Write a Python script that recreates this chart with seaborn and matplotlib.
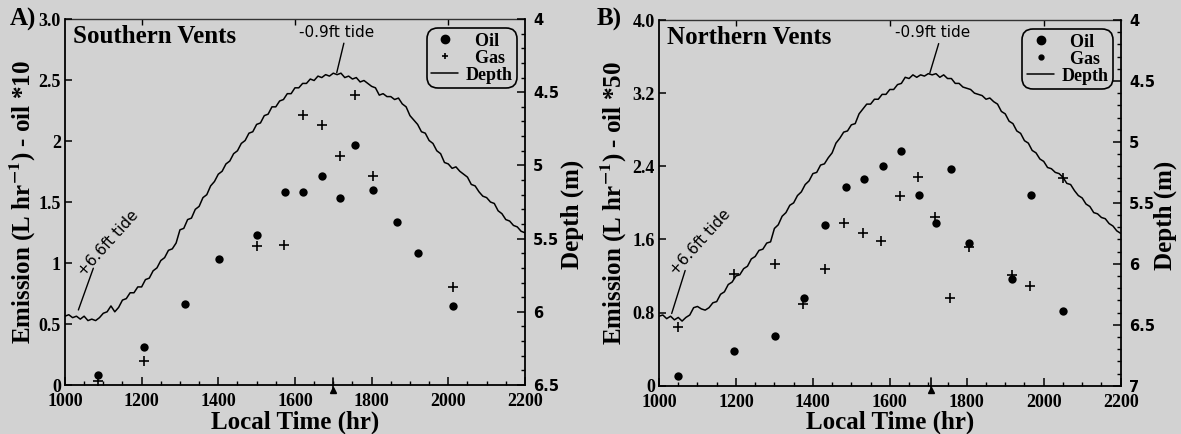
import matplotlib
matplotlib.use("Agg")
import matplotlib.pyplot as plt
import seaborn as sns
from matplotlib.lines import Line2D
from matplotlib.ticker import MultipleLocator, FixedLocator
import matplotlib.transforms as mtransforms

# ---------------- data ----------------
# Southern vents: emission (L/hr, oil scaled x10)
south_oil_time = [1086, 1207, 1313, 1403, 1500, 1574, 1622, 1670, 1717, 1757, 1804, 1867, 1922, 2011]
south_oil = [0.08, 0.31, 0.66, 1.035, 1.23, 1.58, 1.58, 1.71, 1.53, 1.97, 1.60, 1.34, 1.085, 0.65]
south_gas_time = [1087, 1207, 1500, 1571, 1622, 1670, 1717, 1757, 1804, 2011]
south_gas = [0.03, 0.20, 1.14, 1.15, 2.21, 2.13, 1.88, 2.38, 1.71, 0.80]

# Northern vents: emission (L/hr, oil scaled x50)
north_oil_time = [1050, 1195, 1301, 1377, 1432, 1485, 1532, 1581, 1629, 1677, 1720, 1759, 1807, 1917, 1966, 2049]
north_oil = [0.11, 0.38, 0.54, 0.96, 1.76, 2.17, 2.26, 2.40, 2.57, 2.09, 1.78, 2.37, 1.56, 1.17, 2.09, 0.82]
north_gas_time = [1050, 1195, 1301, 1375, 1432, 1482, 1529, 1578, 1627, 1673, 1718, 1757, 1807, 1917, 1964, 2049]
north_gas = [0.64, 1.22, 1.33, 0.89, 1.28, 1.78, 1.67, 1.58, 2.07, 2.28, 1.85, 0.96, 1.52, 1.21, 1.09, 2.27]

# Pressure-gauge depth record, sampled every 10 minutes of local time
depth_time = list(range(1000, 2201, 10))
south_depth = [
    6.03, 6.02, 6.04, 6.03, 6.05, 6.03, 6.06, 6.05, 6.06, 6.04,
    6.01, 6.00, 5.96, 6.00, 5.97, 5.92, 5.91, 5.87, 5.87, 5.83,
    5.83, 5.78, 5.77, 5.72, 5.70, 5.65, 5.63, 5.58, 5.57, 5.53,
    5.44, 5.43, 5.37, 5.36, 5.30, 5.28, 5.22, 5.20, 5.14, 5.11,
    5.06, 5.04, 4.99, 4.97, 4.92, 4.90, 4.85, 4.83, 4.78, 4.77,
    4.72, 4.71, 4.66, 4.65, 4.60, 4.60, 4.56, 4.55, 4.51, 4.51,
    4.47, 4.47, 4.44, 4.44, 4.41, 4.42, 4.39, 4.40, 4.38, 4.39,
    4.37, 4.38, 4.37, 4.40, 4.39, 4.41, 4.40, 4.43, 4.42, 4.44,
    4.46, 4.47, 4.52, 4.51, 4.53, 4.53, 4.55, 4.54, 4.58, 4.60,
    4.66, 4.69, 4.72, 4.77, 4.78, 4.83, 4.85, 4.90, 4.92, 4.98,
    4.99, 5.02, 5.01, 5.04, 5.06, 5.08, 5.13, 5.14, 5.18, 5.21,
    5.22, 5.25, 5.26, 5.31, 5.33, 5.37, 5.38, 5.41, 5.42, 5.45,
    5.46,
]
north_depth = [
    6.43, 6.42, 6.45, 6.43, 6.46, 6.44, 6.47, 6.44, 6.42, 6.36,
    6.35, 6.37, 6.38, 6.36, 6.32, 6.31, 6.25, 6.23, 6.17, 6.15,
    6.10, 6.09, 6.04, 6.02, 5.96, 5.94, 5.89, 5.88, 5.83, 5.82,
    5.71, 5.68, 5.61, 5.58, 5.52, 5.50, 5.44, 5.41, 5.35, 5.32,
    5.26, 5.25, 5.19, 5.18, 5.13, 5.09, 5.01, 4.97, 4.92, 4.91,
    4.86, 4.85, 4.77, 4.73, 4.69, 4.69, 4.65, 4.65, 4.61, 4.61,
    4.57, 4.57, 4.53, 4.52, 4.47, 4.48, 4.45, 4.47, 4.45, 4.46,
    4.44, 4.45, 4.44, 4.47, 4.45, 4.48, 4.48, 4.52, 4.52, 4.55,
    4.56, 4.57, 4.60, 4.61, 4.62, 4.65, 4.64, 4.67, 4.69, 4.75,
    4.77, 4.83, 4.85, 4.91, 4.93, 4.99, 5.01, 5.07, 5.09, 5.14,
    5.16, 5.21, 5.22, 5.25, 5.26, 5.29, 5.34, 5.35, 5.40, 5.44,
    5.46, 5.51, 5.53, 5.58, 5.59, 5.62, 5.63, 5.67, 5.69, 5.73,
    5.75,
]

time_ticks = [1000, 1200, 1400, 1600, 1800, 2000, 2200]
time_labels = ["1000", "1200", "1400", "1600", "1800", "2000", "2200"]

south_yticks = [0, 0.5, 1, 1.5, 2, 2.5, 3.0]
south_ylabels = ["0", "0.5", "1", "1.5", "2", "2.5", "3.0"]
north_yticks = [0, 0.8, 1.6, 2.4, 3.2, 4.0]
north_ylabels = ["0", "0.8", "1.6", "2.4", "3.2", "4.0"]

south_dticks = [4, 4.5, 5, 5.5, 6, 6.5]
south_dlabels = ["4", "4.5", "5", "5.5", "6", "6.5"]
north_dticks = [4, 4.5, 5, 5.5, 6, 6.5, 7]
north_dlabels = ["4", "4.5", "5", "5.5", "6", "6.5", "7"]

# ---------------- style ----------------
BG = "#d2d2d2"
SERIF = ["Liberation Serif", "DejaVu Serif"]
SANS = ["DejaVu Sans"]

sns.set_theme(style="ticks")
plt.rcParams.update({
    "font.family": SERIF,
    "font.weight": "bold",
    "mathtext.fontset": "stix",
    "text.color": "black",
    "axes.labelcolor": "black",
    "figure.facecolor": BG,
    "savefig.facecolor": BG,
    "axes.facecolor": BG,
    "axes.edgecolor": "black",
    "axes.linewidth": 1.3,
    "xtick.color": "black",
    "ytick.color": "black",
    "xtick.labelcolor": "black",
    "ytick.labelcolor": "black",
})

fig = plt.figure(figsize=(11.81, 4.34), dpi=100)


def draw_panel(rect, letter, letter_x, title, oil_t, oil, gas_t, gas, depth,
               ymax, yticks, ylabels, dmax, dticks, dlabels, scale_txt,
               low_xy, low_text_xy, high_line, high_text_xy, low_mark,
               gas_legend_marker, ylab_x, dlab_x):
    ax = fig.add_axes(rect)
    ax2 = ax.twinx()

    sns.scatterplot(x=oil_t, y=oil, ax=ax, marker="o", color="black", s=36,
                    linewidth=0, legend=False, zorder=4)
    sns.scatterplot(x=gas_t, y=gas, ax=ax, marker="+", color="black", s=55,
                    linewidth=1.2, legend=False, zorder=4)
    sns.lineplot(x=depth_time, y=depth, ax=ax2, color="black", linewidth=1.1,
                 estimator=None, sort=False, legend=False)

    ax.set_xlim(1000, 2200)
    ax.set_ylim(0, ymax)
    ax2.set_ylim(dmax, 4)
    ax.set_xlabel("")
    ax.set_ylabel("")
    ax2.set_ylabel("")

    # left / bottom axis
    ax.set_xticks(time_ticks, time_labels, fontsize=13, fontweight="bold")
    ax.xaxis.set_minor_locator(MultipleLocator(50))
    ax.set_yticks(yticks, ylabels, fontsize=13, fontweight="bold")
    ax.tick_params(axis="x", which="major", direction="in", length=6, width=1.1, pad=6)
    ax.tick_params(axis="x", which="minor", direction="in", length=3, width=1.0)
    ax.tick_params(axis="y", which="major", direction="in", length=5, width=1.1, pad=3)
    ax.tick_params(axis="y", which="minor", left=False)

    # right depth axis
    ax2.set_yticks(dticks, dlabels, fontsize=10.5, fontweight="bold", family=SANS)
    ax2.yaxis.set_minor_locator(MultipleLocator(0.1))
    ax2.tick_params(axis="y", which="major", direction="in", length=6, width=1.1, pad=6)
    ax2.tick_params(axis="y", which="minor", direction="in", length=3, width=1.0)

    for a in (ax, ax2):
        a.spines["top"].set_visible(False)
    ax.spines["right"].set_visible(False)
    for s in ("left", "bottom"):
        ax2.spines[s].set_visible(False)
    ax2.spines["right"].set_linewidth(1.3)

    top = ax.secondary_xaxis("top")
    top.xaxis.set_major_locator(FixedLocator([1200, 1600, 2000]))
    top.tick_params(direction="in", length=4, width=1.0, labeltop=False)
    top.spines["top"].set_linestyle((0, (1, 1)))
    top.spines["top"].set_linewidth(1.0)
    top.spines["top"].set_color("#333333")

    # low-tide time marker on the time axis
    trans = mtransforms.blended_transform_factory(ax.transData, ax.transAxes)
    ax.plot([low_mark, low_mark], [-0.015, 0.02], color="black", lw=1.2,
            transform=trans, clip_on=False, zorder=6)
    ax.plot([low_mark], [-0.013], marker="^", ms=5, color="black",
            transform=trans, clip_on=False, zorder=6)

    # tide annotations
    ax.annotate("-0.9ft tide", xy=low_xy, xytext=low_text_xy, ha="center",
                va="center", fontsize=11, fontweight="normal", family=SANS,
                arrowprops=dict(arrowstyle="-", color="black", lw=1.0,
                                shrinkA=0, shrinkB=0, relpos=(0.6, 0.0)))
    ax.annotate("", xy=high_line[0], xytext=high_line[1],
                arrowprops=dict(arrowstyle="-", color="black", lw=1.0,
                                shrinkA=0, shrinkB=0))
    ax.text(high_text_xy[0], high_text_xy[1], "+6.6ft tide", rotation=48,
            rotation_mode="anchor", ha="left", va="center", fontsize=11,
            fontweight="normal", family=SANS)

    # titles and axis labels
    ax.text(0.017, 0.951, title, transform=ax.transAxes, ha="left",
            va="center", fontsize=18, fontweight="bold")
    fig.text(letter_x, 0.956, letter, ha="left", va="center", fontsize=18,
             fontweight="bold")
    ax.text(ylab_x, 0.5, r"Emission (L hr$^{\mathbf{-1}}$) - oil *" + scale_txt,
            transform=ax.transAxes, rotation=90, ha="center", va="center",
            fontsize=18, fontweight="bold")
    ax.text(dlab_x, 0.465, "Depth (m)", transform=ax.transAxes, rotation=90,
            ha="center", va="center", fontsize=18, fontweight="bold")
    ax.text(0.5, -0.101, "Local Time (hr)", transform=ax.transAxes,
            ha="center", va="center", fontsize=18, fontweight="bold")

    # legend
    handles = [
        Line2D([], [], ls="", marker="o", color="black", ms=6),
        Line2D([], [], ls="", color="black", **gas_legend_marker),
        Line2D([], [], color="black", lw=1.1),
    ]
    leg = ax2.legend(handles, ["  Oil", "  Gas", "Depth"], loc="upper right",
                     bbox_to_anchor=(0.983, 0.975), frameon=True,
                     prop={"family": SERIF, "weight": "bold", "size": 13},
                     handlelength=1.5, handletextpad=0.4, labelspacing=0.0,
                     borderpad=0.25, borderaxespad=0.0, fancybox=True)
    for t in leg.get_texts():
        t.set_color("black")
    fr = leg.get_frame()
    fr.set_facecolor(BG)
    fr.set_edgecolor("black")
    fr.set_linewidth(1.2)
    fr.set_alpha(1)
    fr.set_boxstyle("round", pad=0.0, rounding_size=0.6)
    return ax, ax2


draw_panel([0.0550, 0.1129, 0.3895, 0.8433], "A)", 0.0085, "Southern Vents",
           south_oil_time, south_oil, south_gas_time, south_gas, south_depth,
           3.0, south_yticks, south_ylabels, 6.5, south_dticks, south_dlabels, "10",
           low_xy=(1709, 2.56), low_text_xy=(1710, 2.89),
           high_line=[(1035, 0.615), (1074, 0.957)], high_text_xy=(1042, 0.91),
           low_mark=1700, gas_legend_marker=dict(marker="+", ms=5, mew=1.2),
           ylab_x=-0.091, dlab_x=1.102)

draw_panel([0.5580, 0.1113, 0.3909, 0.8426], "B)", 0.5055, "Northern Vents",
           north_oil_time, north_oil, north_gas_time, north_gas, north_depth,
           4.0, north_yticks, north_ylabels, 7.0, north_dticks, north_dlabels, "50",
           low_xy=(1704, 3.42), low_text_xy=(1710, 3.86),
           high_line=[(1033, 0.79), (1068, 1.26)], high_text_xy=(1036, 1.23),
           low_mark=1708, gas_legend_marker=dict(marker="o", ms=3.5),
           ylab_x=-0.097, dlab_x=1.097)

fig.savefig("out.png", dpi=100, facecolor=BG)
